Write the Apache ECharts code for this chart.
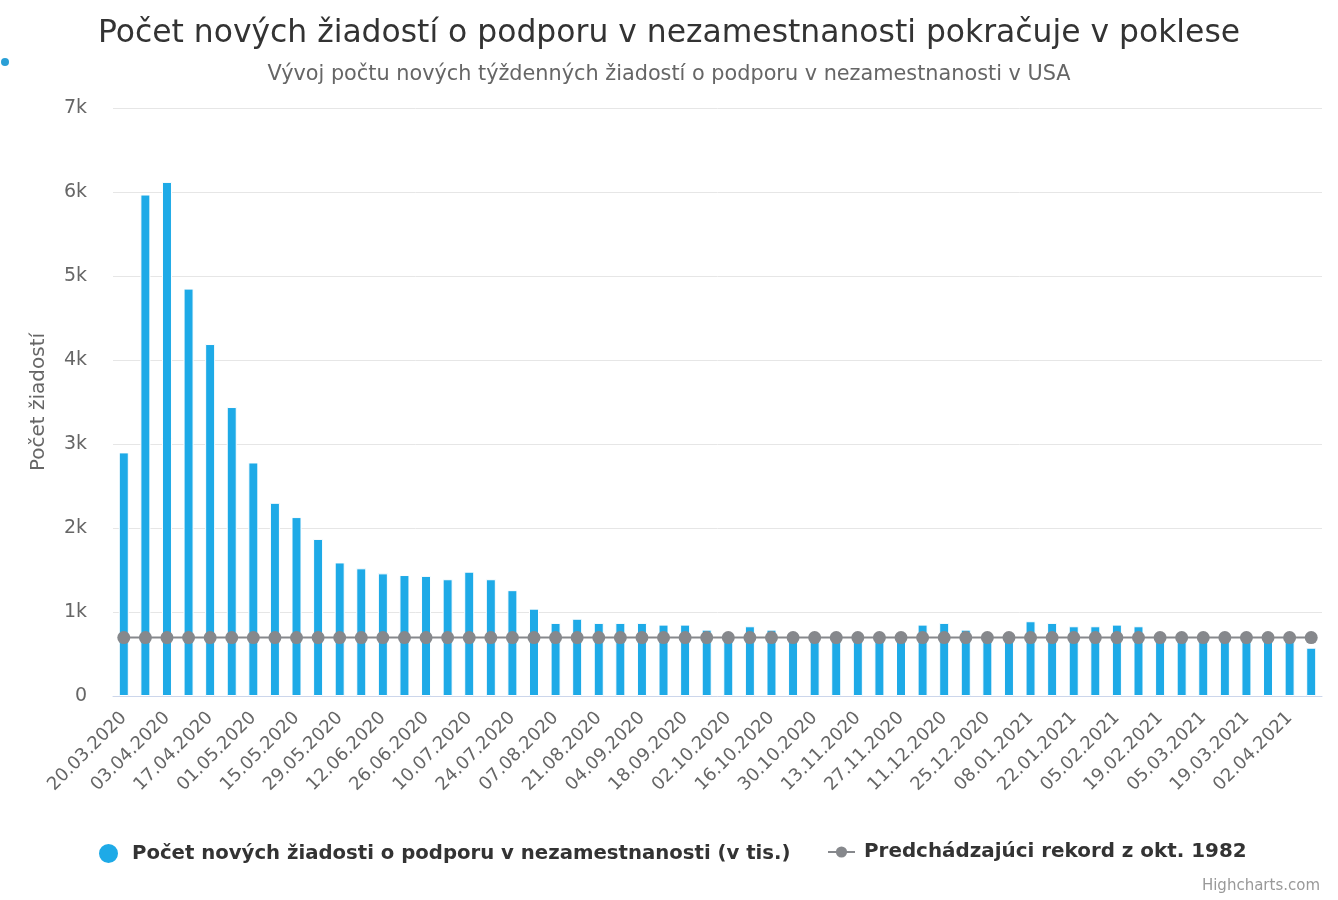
<!DOCTYPE html>
<html>
<head>
<meta charset="utf-8">
<title>Počet nových žiadostí o podporu v nezamestnanosti</title>
<script src="https://cdn.jsdelivr.net/npm/echarts@6/dist/echarts.min.js"></script>
<style>
  html, body { margin: 0; padding: 0; background: #fff; }
  #chart { width: 1338px; height: 900px; }
</style>
</head>
<body>
<div id="chart"></div>
<script>
// tyzdenne datumy (piatky), 20.03.2020 - 09.04.2021
var weeks = [
  '20.03.2020', '27.03.2020', '03.04.2020', '10.04.2020', '17.04.2020', '24.04.2020',
  '01.05.2020', '08.05.2020', '15.05.2020', '22.05.2020', '29.05.2020', '05.06.2020',
  '12.06.2020', '19.06.2020', '26.06.2020', '03.07.2020', '10.07.2020', '17.07.2020',
  '24.07.2020', '31.07.2020', '07.08.2020', '14.08.2020', '21.08.2020', '28.08.2020',
  '04.09.2020', '11.09.2020', '18.09.2020', '25.09.2020', '02.10.2020', '09.10.2020',
  '16.10.2020', '23.10.2020', '30.10.2020', '06.11.2020', '13.11.2020', '20.11.2020',
  '27.11.2020', '04.12.2020', '11.12.2020', '18.12.2020', '25.12.2020', '01.01.2021',
  '08.01.2021', '15.01.2021', '22.01.2021', '29.01.2021', '05.02.2021', '12.02.2021',
  '19.02.2021', '26.02.2021', '05.03.2021', '12.03.2021', '19.03.2021', '26.03.2021',
  '02.04.2021', '09.04.2021'
];

// nove ziadosti (v tis.)
var claims = [
  2900, 5970, 6120, 4850, 4190, 3440,
  2780, 2300, 2130, 1870, 1590, 1520,
  1460, 1440, 1430, 1390, 1480, 1390,
  1260, 1040, 870, 920, 870, 870,
  870, 850, 850, 790, 750, 830,
  790, 750, 740, 740, 730, 740,
  720, 850, 870, 790, 730, 730,
  890, 870, 830, 830, 850, 830,
  730, 740, 730, 720, 730, 740,
  740, 575
];

// predchadzajuci rekord z okt. 1982
var record = weeks.map(function() { return 695; });

var barName = 'Počet nových žiadosti o podporu v nezamestnanosti (v tis.)';
var lineName = 'Predchádzajúci rekord z okt. 1982';

var font = '"DejaVu Sans", "Noto Sans", sans-serif';
var chart = echarts.init(document.getElementById('chart'));

chart.setOption({
  textStyle: { fontFamily: font },
  title: [
    {
      text: 'Počet nových žiadostí o podporu v nezamestnanosti pokračuje v poklese',
      left: 'center', top: 13,
      textStyle: { fontSize: 31.4, fontWeight: 'normal', color: '#333333', fontFamily: font }
    },
    {
      text: 'Vývoj počtu nových týždenných žiadostí o podporu v nezamestnanosti v USA',
      left: 'center', top: 59,
      textStyle: { fontSize: 20.8, fontWeight: 'normal', color: '#666666', fontFamily: font }
    }
  ],
  legend: [
    {
      data: [{ name: barName, icon: 'circle' }],
      left: 92, top: 837,
      itemWidth: 21, itemHeight: 21,
      textStyle: {
        fontSize: 19.7, fontWeight: 'bold', color: '#333333', fontFamily: font,
        padding: [0, 0, 0, 8]
      }
    },
    {
      data: [{ name: lineName }],
      left: 822, top: 837,
      itemWidth: 27, itemHeight: 14,
      textStyle: {
        fontSize: 19.9, fontWeight: 'bold', color: '#333333', fontFamily: font,
        padding: [0, 0, 0, 4]
      }
    }
  ],
  grid: { left: 113, right: 16, top: 108, bottom: 204 },
  xAxis: {
    type: 'category',
    data: weeks,
    axisLine: { lineStyle: { color: '#ccd6eb' } },
    axisTick: { show: false },
    axisLabel: {
      interval: 1, rotate: 45, margin: 19,
      fontSize: 18, color: '#666666', fontFamily: font
    }
  },
  yAxis: {
    type: 'value',
    min: 0, max: 7000, interval: 1000,
    name: 'Počet žiadostí',
    nameLocation: 'middle', nameGap: 64,
    nameTextStyle: { fontSize: 20, color: '#666666', fontFamily: font },
    axisLabel: {
      fontSize: 19, color: '#666666', margin: 26, fontFamily: font,
      formatter: function(v) { return v === 0 ? '0' : (v / 1000) + 'k'; }
    },
    splitLine: { lineStyle: { color: '#e6e6e6' } }
  },
  series: [
    {
      name: barName,
      type: 'bar',
      data: claims,
      barWidth: 10,
      itemStyle: { color: '#1eaae7', borderColor: '#ffffff', borderWidth: 1 }
    },
    {
      name: lineName,
      type: 'line',
      data: record,
      symbol: 'circle', symbolSize: 13,
      lineStyle: { color: '#86888c', width: 2 },
      itemStyle: { color: '#86888c' }
    }
  ],
  graphic: [
    {
      type: 'text', right: 18, top: 879,
      style: { text: 'Highcharts.com', fontSize: 15, fill: '#999999', fontFamily: font }
    },
    {
      type: 'circle', shape: { cx: 5, cy: 62, r: 4 },
      style: { fill: '#2a9fd6' }
    }
  ]
});
</script>
</body>
</html>
